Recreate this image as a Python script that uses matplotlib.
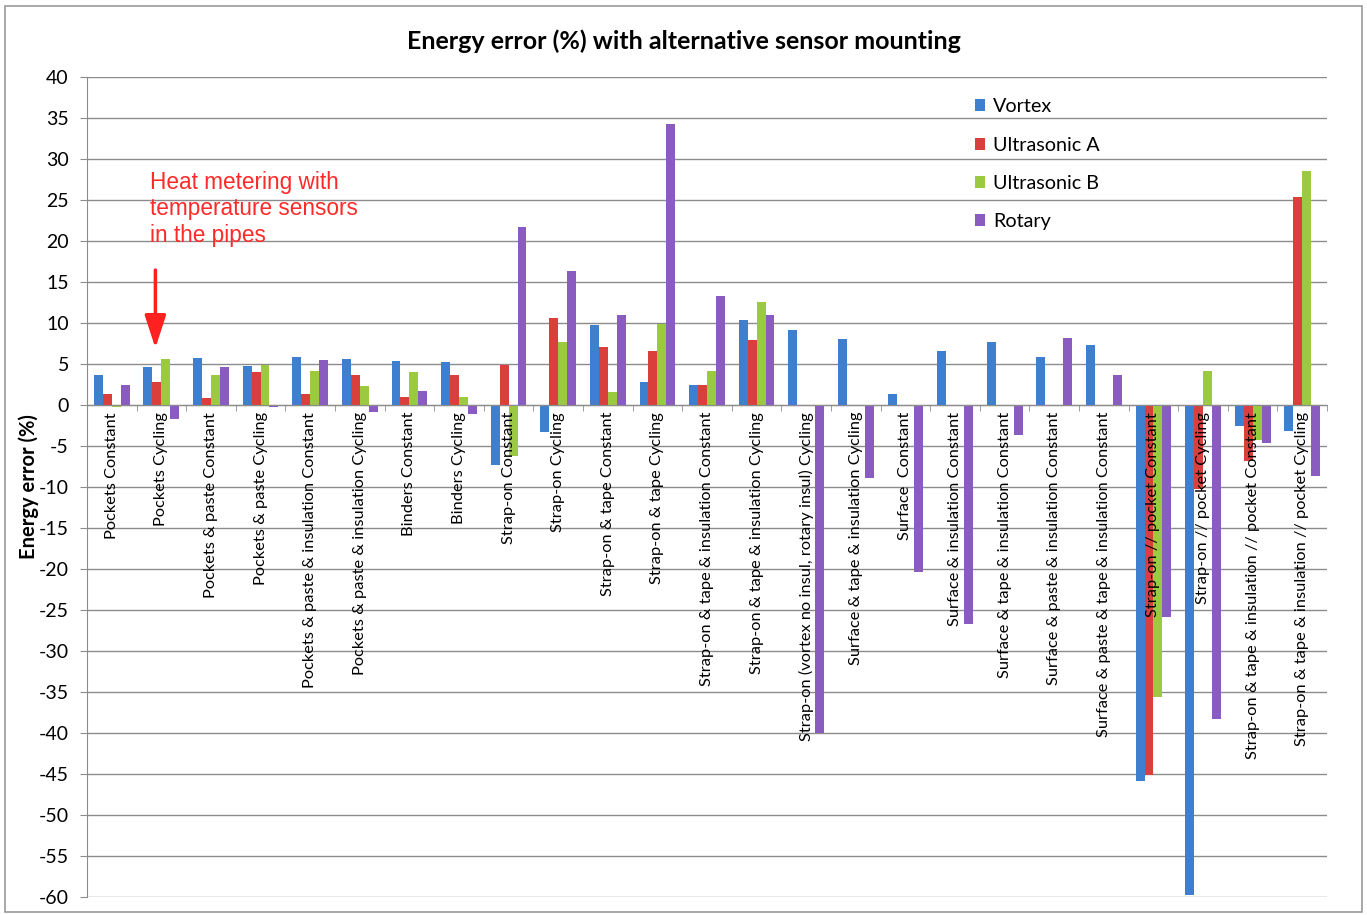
import matplotlib.pyplot as plt
import matplotlib.patches as mpatches
import numpy as np

# categories and series values (energy error in %)
categories = [
    'Pockets Constant', 'Pockets Cycling',
    'Pockets & paste Constant', 'Pockets & paste Cycling',
    'Pockets & paste & insulation Constant', 'Pockets & paste & insulation Cycling',
    'Binders Constant', 'Binders Cycling',
    'Strap-on Constant', 'Strap-on Cycling',
    'Strap-on & tape Constant', 'Strap-on & tape Cycling',
    'Strap-on & tape & insulation Constant', 'Strap-on & tape & insulation Cycling',
    'Strap-on (vortex no insul, rotary insul) Cycling',
    'Surface & tape & insulation Cycling',
    'Surface  Constant',
    'Surface & insulation Constant',
    'Surface & tape & insulation Constant',
    'Surface & paste & insulation Constant',
    'Surface & paste & tape & insulation Constant',
    'Strap-on // pocket Constant', 'Strap-on // pocket Cycling',
    'Strap-on & tape & insulation // pocket Constant',
    'Strap-on & tape & insulation // pocket Cycling',
]
vortex = [3.7, 4.6, 5.7, 4.8, 5.8, 5.6, 5.4, 5.3, -7.3, -3.3, 9.8, 2.8, 2.5,
          10.4, 9.2, 8.0, 1.4, 6.6, 7.7, 5.9, 7.3, -45.9, -59.8, -2.6, -3.2]
ultrasonic_a = [1.4, 2.8, 0.8, 4.0, 1.4, 3.6, 1.0, 3.6, 4.9, 10.6, 7.1, 6.6, 2.5,
                7.9, None, None, None, None, None, None, None, -45.1, -10.3, -6.8, 25.4]
ultrasonic_b = [-0.3, 5.6, 3.7, 4.9, 4.1, 2.3, 4.0, 1.0, -6.2, 7.7, 1.6, 9.9, 4.2,
                12.6, None, None, None, None, None, None, None, -35.6, 4.1, -4.3, 28.5]
rotary = [2.4, -1.7, 4.6, -0.3, 5.5, -0.8, 1.7, -1.1, 21.7, 16.3, 11.0, 34.3, 13.3,
          11.0, -40.0, -8.9, -20.4, -26.7, -3.6, 8.2, 3.7, -25.8, -38.3, -4.6, -8.7]
series_names = ['Vortex', 'Ultrasonic A', 'Ultrasonic B', 'Rotary']

plt.rcParams['font.family'] = ['Lato', 'DejaVu Sans']
plt.rcParams['axes.unicode_minus'] = False

fig = plt.figure(figsize=(13.67, 9.15), dpi=100)
ax = fig.add_axes([0.0636, 0.0197, 0.9072, 0.8961])

# outer chart border
fig.patches.append(mpatches.Rectangle((0.004, 0.003), 0.992, 0.99, transform=fig.transFigure,
                                      fill=False, edgecolor='#9a9a9a', lw=1.2))

colors = ['#3F7FD0', '#D9403C', '#9BC93F', '#8A5CBF']
all_series = [vortex, ultrasonic_a, ultrasonic_b, rotary]
x = np.arange(len(categories))
w = 0.18
for k, (vals, name, c) in enumerate(zip(all_series, series_names, colors)):
    v = np.array([np.nan if a is None else a for a in vals], dtype=float)
    ax.bar(x + (k - 1.5) * w, v, w, color=c, label=name, zorder=1)

ax.set_xlim(-0.5, len(categories) - 0.5)
ax.set_ylim(-60, 40)
ax.set_yticks(np.arange(-60, 41, 5))
for yv in ax.get_yticks():
    ax.axhline(yv, color='#8c8c8c', lw=1.0, zorder=0.5)

# category axis sits on zero line
ax.spines['bottom'].set_position(('data', 0))
ax.spines['bottom'].set_color('#8c8c8c')
ax.spines['left'].set_color('#8c8c8c')
ax.spines['top'].set_visible(False)
ax.spines['right'].set_visible(False)
ax.set_xticks(x)
ax.set_xticklabels(categories, rotation=90, va='top', fontsize=11.8)
ax.set_xticks(np.arange(-0.5, len(categories), 1), minor=True)
ax.tick_params(axis='x', which='major', length=0, pad=5)
ax.tick_params(axis='x', which='minor', length=4, color='#8c8c8c')
ax.tick_params(axis='y', length=5, color='#8c8c8c', labelsize=14, pad=8)

ax.set_ylabel('Energy error (%)', fontsize=14.5, fontweight='bold', labelpad=0)
fig.text(0.5, 0.955, 'Energy error (%) with alternative sensor mounting', fontsize=18,
         fontweight='bold', ha='center', va='center')

ax.legend(loc='upper left', bbox_to_anchor=(0.7, 0.912), bbox_transform=fig.transFigure,
          frameon=False, fontsize=14.2, handlelength=0.55, handleheight=0.55,
          handletextpad=0.4, labelspacing=1.08)

# annotation pointing to the reference case
ax.text(0.78, 28.6, 'Heat metering with\ntemperature sensors\nin the pipes',
        color='#FF2A2A', fontsize=16.3, family=['Liberation Sans', 'DejaVu Sans'],
        va='top', ha='left', linespacing=1.2)
ax.annotate('', xy=(0.88, 6.6), xytext=(0.88, 16.8),
            arrowprops=dict(arrowstyle='-|>,head_width=0.65,head_length=2.0',
                            color='#FF2020', lw=2.5))

fig.savefig('out.png', dpi=100)
